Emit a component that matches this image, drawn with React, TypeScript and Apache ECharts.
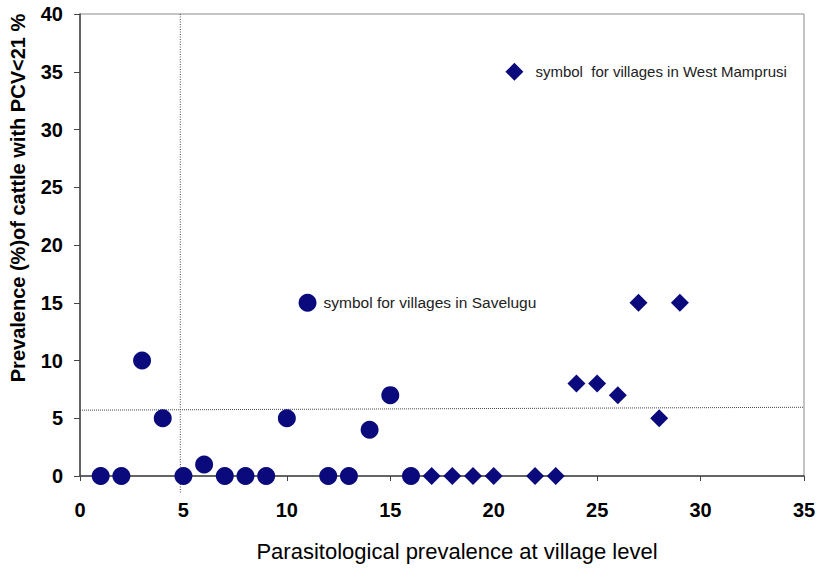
import React, { useEffect, useRef } from "react";
import * as echarts from "echarts";

const saveluguX = [1, 2, 3, 4, 5, 6, 7, 8, 9, 10, 12, 13, 14, 15, 16];
const saveluguY = [0, 0, 10, 5, 0, 1, 0, 0, 0, 5, 0, 0, 4, 7, 0];
const mamprusiX = [17, 18, 19, 20, 22, 23, 24, 25, 26, 27, 28, 29];
const mamprusiY = [0, 0, 0, 0, 0, 0, 8, 8, 7, 15, 5, 15];
const legendSavelugu = [11, 15];
const legendMamprusi = [21, 35];
const vLineX = 4.85;
const hLineY = [5.7, 5.95];

const NAVY = "#0a0a7c";
const FONT = "'Liberation Sans', Arial, sans-serif";

export default function App() {
  const ref = useRef<HTMLDivElement>(null);
  useEffect(() => {
    document.body.style.margin = "0";
    if (!ref.current) return;
    const chart = echarts.init(ref.current, undefined, { renderer: "svg" });
    const option: any = {
      animation: false,
      backgroundColor: "#ffffff",
      grid: {
        left: 80,
        top: 14,
        right: 17,
        bottom: 93,
        show: true,
        borderColor: "#8a8a8a",
        borderWidth: 1,
      },
      xAxis: {
        type: "value",
        min: 0,
        max: 35,
        interval: 5,
        splitLine: { show: false },
        axisLine: { show: true, onZero: false, lineStyle: { color: "#444", width: 1.5 } },
        axisTick: { show: true, length: 5, lineStyle: { color: "#444" } },
        axisLabel: { fontFamily: FONT, fontSize: 20, fontWeight: "bold", color: "#000", margin: 24 },
      },
      yAxis: {
        type: "value",
        min: 0,
        max: 40,
        interval: 5,
        splitLine: { show: false },
        axisLine: { show: true, onZero: false, lineStyle: { color: "#444", width: 1.5 } },
        axisTick: { show: true, length: 6, lineStyle: { color: "#444" } },
        axisLabel: { fontFamily: FONT, fontSize: 20, fontWeight: "bold", color: "#000", margin: 17 },
      },
      series: [
        {
          type: "scatter",
          name: "Savelugu",
          symbol: "circle",
          symbolSize: 18,
          itemStyle: { color: NAVY, opacity: 1 },
          data: saveluguX.map((x, i) => [x, saveluguY[i]]),
          z: 5,
          markLine: {
            silent: true,
            symbol: "none",
            label: { show: false },
            lineStyle: { color: "#444", type: "dotted", width: 1 },
            data: [
              [
                { coord: [0, hLineY[0]] },
                { coord: [35, hLineY[1]] },
              ],
            ],
          },
        },
        {
          type: "scatter",
          name: "West Mamprusi",
          symbol: "diamond",
          symbolSize: 18,
          itemStyle: { color: NAVY, opacity: 1 },
          data: mamprusiX.map((x, i) => [x, mamprusiY[i]]),
          z: 5,
        },
        {
          type: "scatter",
          name: "legend-savelugu",
          symbol: "circle",
          symbolSize: 18,
          itemStyle: { color: NAVY, opacity: 1 },
          data: [[legendSavelugu[0], legendSavelugu[1]]],
          label: {
            show: true,
            position: "right",
            distance: 7,
            formatter: "symbol for villages in Savelugu",
            fontFamily: FONT,
            fontSize: 15.5,
            color: "#222",
          },
        },
        {
          type: "scatter",
          name: "legend-mamprusi",
          symbol: "diamond",
          symbolSize: 18,
          itemStyle: { color: NAVY, opacity: 1 },
          data: [[legendMamprusi[0], legendMamprusi[1]]],
          label: {
            show: true,
            position: "right",
            distance: 12,
            formatter: "symbol  for villages in West Mamprusi",
            fontFamily: FONT,
            fontSize: 15,
            color: "#222",
          },
        },
      ],
    };
    chart.setOption(option);
    const top = chart.convertToPixel({ gridIndex: 0 }, [vLineX, 40]) as number[];
    const bot = chart.convertToPixel({ gridIndex: 0 }, [vLineX, 0]) as number[];
    chart.setOption({
      graphic: [
        {
          type: "line",
          z: 1,
          shape: { x1: top[0], y1: top[1], x2: bot[0], y2: bot[1] + 18 },
          style: { stroke: "#444", lineWidth: 1, lineDash: [1, 1.5] },
        },
        {
          type: "text",
          x: 18,
          y: 198,
          rotation: Math.PI / 2,
          style: {
            text: "Prevalence (%)of cattle with PCV<21 %",
            fontFamily: FONT,
            fontSize: 20,
            fontWeight: "bold",
            fill: "#000",
            align: "center",
            verticalAlign: "middle",
          },
        },
        {
          type: "text",
          x: 457,
          y: 551,
          style: {
            text: "Parasitological prevalence at village level",
            fontFamily: FONT,
            fontSize: 22,
            fill: "#000",
            align: "center",
            verticalAlign: "middle",
          },
        },
      ],
    });
    return () => chart.dispose();
  }, []);
  return <div ref={ref} style={{ width: 821, height: 569 }} />;
}
